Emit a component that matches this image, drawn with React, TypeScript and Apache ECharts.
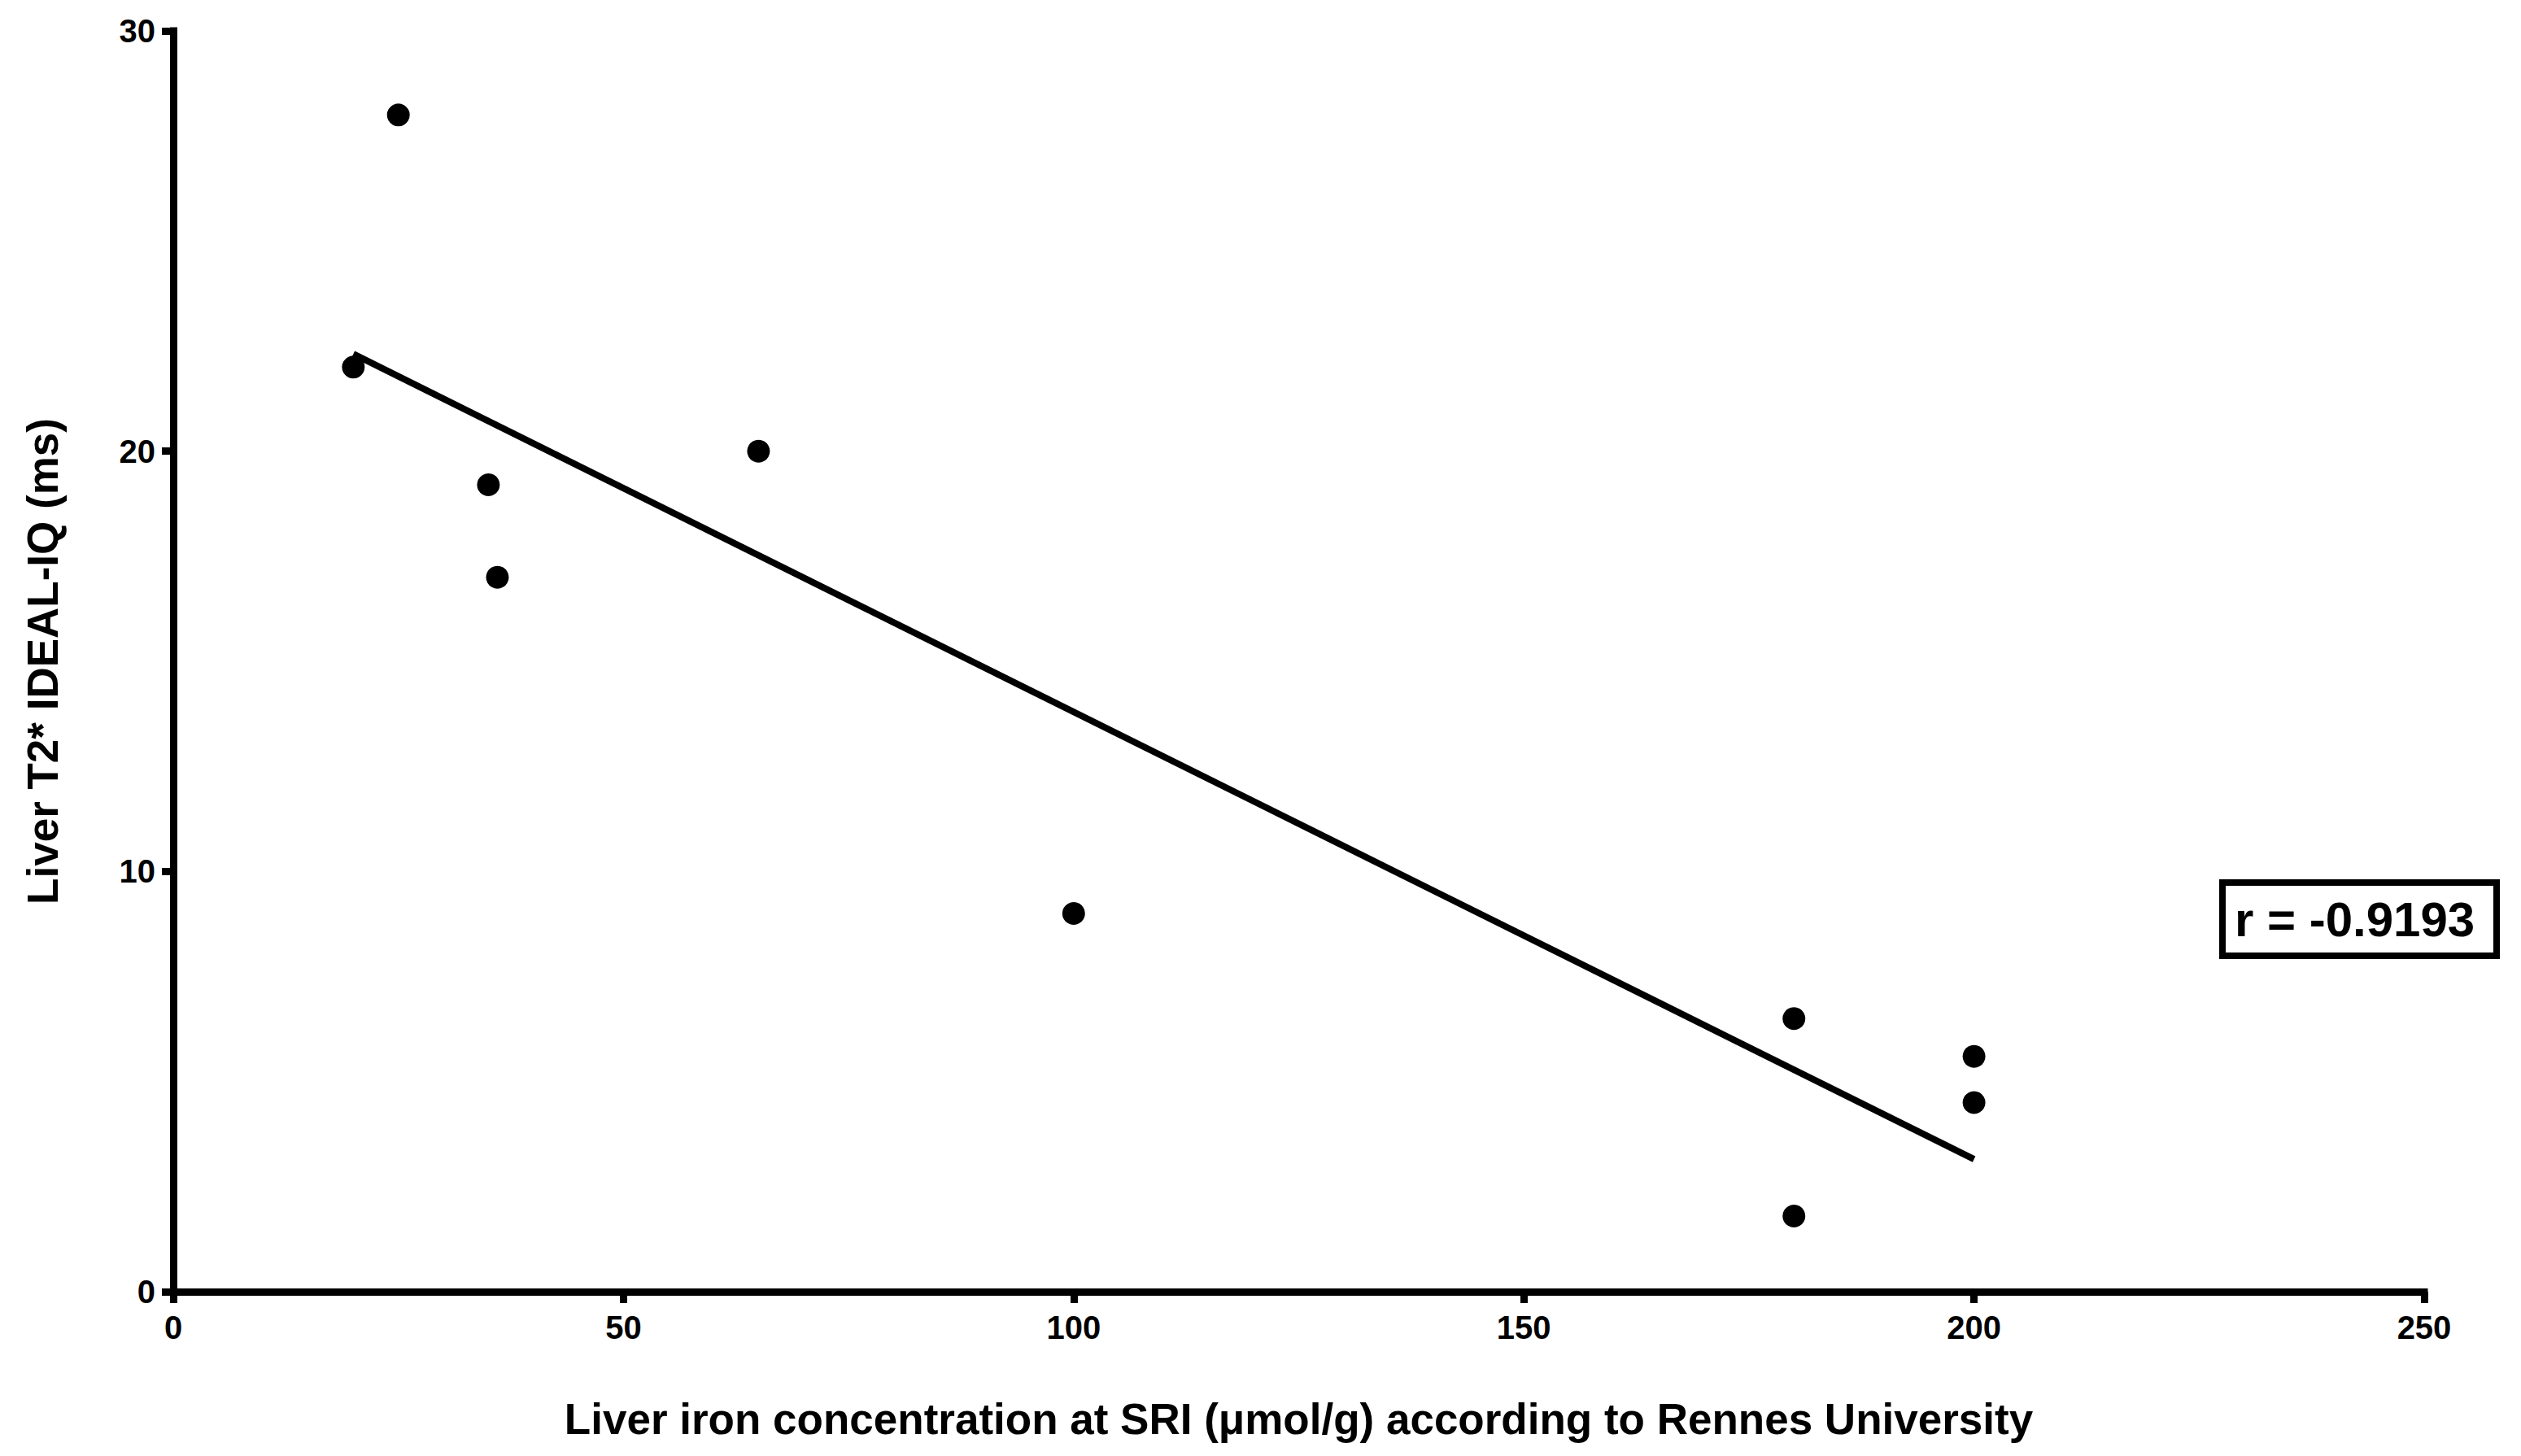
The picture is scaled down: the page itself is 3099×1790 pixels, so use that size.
import React, { useEffect, useRef } from "react";
import * as echarts from "echarts";

const ironConcentration = [25, 20, 35, 36, 65, 100, 180, 180, 200, 200];
const t2Star = [28, 22, 19.2, 17, 20, 9, 6.5, 1.8, 5.6, 4.5];
const xTicks = [0, 50, 100, 150, 200, 250];
const yTicks = [0, 10, 20, 30];
const correlationLabel = "r = -0.9193";
const xTitle = "Liver iron concentration at SRI (\u03bcmol/g) according to Rennes University";
const yTitle = "Liver T2* IDEAL-IQ (ms)";

function fitLine(xs: number[], ys: number[]) {
  const n = xs.length;
  const mx = xs.reduce((a, b) => a + b, 0) / n;
  const my = ys.reduce((a, b) => a + b, 0) / n;
  let sxy = 0;
  let sxx = 0;
  for (let i = 0; i < n; i++) {
    sxy += (xs[i] - mx) * (ys[i] - my);
    sxx += (xs[i] - mx) * (xs[i] - mx);
  }
  const slope = sxy / sxx;
  const intercept = my - slope * mx;
  const x0 = Math.min(...xs);
  const x1 = Math.max(...xs);
  return [
    [x0, intercept + slope * x0],
    [x1, intercept + slope * x1],
  ];
}

const FONT = "'Liberation Sans', Arial, Helvetica, sans-serif";

export default function App() {
  const ref = useRef<HTMLDivElement>(null);

  useEffect(() => {
    if (!ref.current) return;
    const chart = echarts.init(ref.current, null, { renderer: "svg" });
    const points = ironConcentration.map((x, i) => [x, t2Star[i]]);
    const fit = fitLine(ironConcentration, t2Star);
    const axisCommon = {
      axisLine: { show: true, lineStyle: { color: "#000", width: 9, cap: "square" } },
      axisTick: { show: true, length: 14, lineStyle: { color: "#000", width: 9 } },
      splitLine: { show: false },
      nameTextStyle: { color: "#000", fontFamily: FONT, fontWeight: "bold", fontSize: 53 },
    };
    chart.setOption({
      animation: false,
      backgroundColor: "#fff",
      grid: { left: 213, right: 119, top: 38, bottom: 202, outerBoundsMode: "none" },
      xAxis: {
        type: "value",
        min: xTicks[0],
        max: xTicks[xTicks.length - 1],
        interval: 50,
        name: xTitle,
        nameLocation: "middle",
        nameGap: 130,
        ...axisCommon,
        axisLabel: {
          color: "#000",
          fontFamily: FONT,
          fontWeight: "bold",
          fontSize: 40,
          margin: 24,
        },
      },
      yAxis: {
        type: "value",
        min: yTicks[0],
        max: yTicks[yTicks.length - 1],
        interval: 10,
        name: yTitle,
        nameLocation: "middle",
        nameGap: 134,
        ...axisCommon,
        axisLabel: {
          color: "#000",
          fontFamily: FONT,
          fontWeight: "bold",
          fontSize: 40,
          margin: 22,
        },
      },
      series: [
        {
          type: "line",
          data: fit,
          showSymbol: false,
          symbol: "none",
          lineStyle: { color: "#000", width: 8 },
          z: 2,
        },
        {
          type: "scatter",
          data: points,
          symbol: "circle",
          symbolSize: 28,
          itemStyle: { color: "#000", opacity: 1 },
          z: 3,
        },
      ],
      graphic: [
        {
          type: "group",
          left: 2728,
          top: 1081,
          children: [
            {
              type: "rect",
              shape: { x: 4, y: 4, width: 337, height: 90 },
              style: { fill: "#fff", stroke: "#000", lineWidth: 8 },
            },
            {
              type: "text",
              x: 19,
              y: 49,
              style: {
                text: correlationLabel,
                fill: "#000",
                font: `bold 60px ${FONT}`,
                textVerticalAlign: "middle",
                verticalAlign: "middle",
              },
            },
          ],
        },
      ],
    });
    return () => chart.dispose();
  }, []);

  return (
    <div
      ref={ref}
      style={{ position: "fixed", left: 0, top: 0, width: 3099, height: 1790, background: "#fff" }}
    />
  );
}
